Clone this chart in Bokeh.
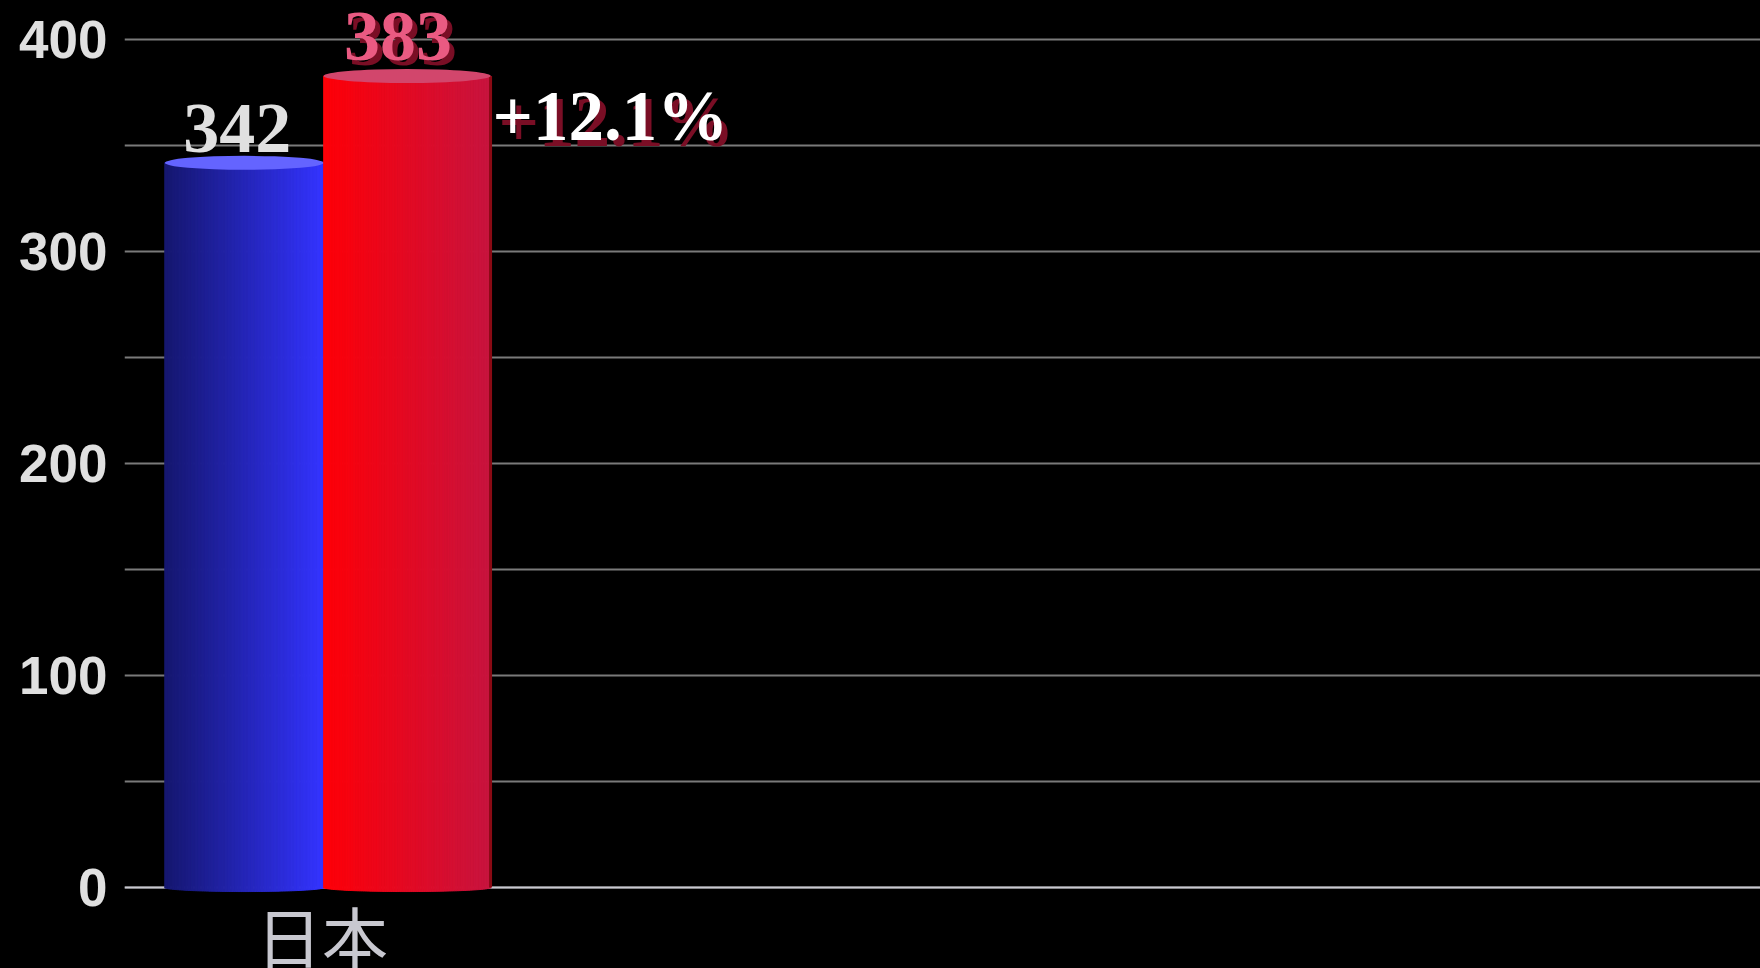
import numpy as np
from bokeh.plotting import figure
from bokeh.models import Range1d, FixedTicker, SingleIntervalTicker, Span
from bokeh.core.properties import value
from bokeh.embed import file_html
from bokeh.resources import INLINE

# ---- data ----
categories = ["日本"]
values_prev = [342]
values_curr = [383]
change_labels = ["+12.1%"]
y_ticks = [0, 100, 200, 300, 400]

# ---- style ----
W, H = 1760, 968
OFF_PREV, W_PREV = -0.207, 0.389
OFF_CURR, W_CURR = 0.191, 0.408
PX_PER_UNIT_Y = 2.119
BOTTOM_HALF = 4 / PX_PER_UNIT_Y   # bottom ellipse half height (data units)
Y0, Y1 = -38.2, 418.6

p = figure(width=W, height=H, output_backend="svg", toolbar_location=None,
           x_range=Range1d(-0.5, 3.5), y_range=Range1d(Y0, Y1),
           background_fill_color="black", border_fill_color="black",
           min_border_left=124, min_border_right=0, min_border_top=0,
           min_border_bottom=0)
p.outline_line_color = None
p.styles = {"background-color": "#000000"}


def hex2rgb(h):
    h = h.lstrip("#")
    return np.array([int(h[i:i + 2], 16) for i in (0, 2, 4)], dtype=float)


def cylinder(xc, w, val, c_left, c_right, c_top, edge=None, n=90):
    edges = np.linspace(xc - w / 2, xc + w / 2, n + 1)
    mids = (edges[:-1] + edges[1:]) / 2
    t = (mids - xc) / (w / 2)
    a, b = hex2rgb(c_left), hex2rgb(c_right)
    fr = np.linspace(0, 1, n)
    cols = ["#%02x%02x%02x" % tuple(int(round(v)) for v in (a + (b - a) * f)) for f in fr]
    bottoms = -BOTTOM_HALF * np.sqrt(np.clip(1 - t ** 2, 0, 1))
    p.quad(left=edges[:-1], right=edges[1:], top=[val] * n, bottom=bottoms,
           fill_color=cols, line_color=cols, line_width=1)
    if edge:
        p.segment(x0=[xc + w / 2], y0=[0], x1=[xc + w / 2], y1=[val],
                  line_color=edge, line_width=3)
    p.ellipse(x=[xc], y=[val], width=[w], height=[14], height_units="screen",
              fill_color=c_top, line_color=None)


xs = np.arange(len(categories))

# zero line
p.add_layout(Span(location=0, dimension="width", line_color="#c8c8d0",
                  line_width=2, level="underlay"))

for i in range(len(categories)):
    cylinder(xs[i] + OFF_PREV, W_PREV, values_prev[i], "#161870", "#3434ff", "#6464ff")
    cylinder(xs[i] + OFF_CURR, W_CURR, values_curr[i], "#ff0008", "#c8143f", "#d2466c",
             edge="#8a0a14")

serif = value("Liberation Serif")

# previous value labels
p.text(x=xs + OFF_PREV, y=values_prev, text=[str(v) for v in values_prev],
       text_font=serif, text_font_style="bold", text_font_size="72px",
       text_color="#e0e0e0", text_align="center", text_baseline="alphabetic",
       x_offset=-7, y_offset=-34)

# current value labels (shadow + main)
p.text(x=xs + OFF_CURR, y=values_curr, text=[str(v) for v in values_curr],
       text_font=serif, text_font_style="bold", text_font_size="72px",
       text_color="#7a0e25", text_align="center", text_baseline="alphabetic",
       x_offset=-4, y_offset=-34)
p.text(x=xs + OFF_CURR, y=values_curr, text=[str(v) for v in values_curr],
       text_font=serif, text_font_style="bold", text_font_size="72px",
       text_color="#ea5a82", text_align="center", text_baseline="alphabetic",
       x_offset=-9, y_offset=-39)

# change labels (shadow + main)
right_edge = xs + OFF_CURR + W_CURR / 2
p.text(x=right_edge, y=values_prev, text=change_labels,
       text_font=serif, text_font_style="bold", text_font_size="71px",
       text_color="#7a0e25", text_align="left", text_baseline="alphabetic",
       x_offset=8, y_offset=-41)
p.text(x=right_edge, y=values_prev, text=change_labels,
       text_font=serif, text_font_style="bold", text_font_size="71px",
       text_color="#ffffff", text_align="left", text_baseline="alphabetic",
       x_offset=2, y_offset=-47)

# category labels
p.text(x=xs, y=[0] * len(categories), text=categories,
       text_font=value("Noto Sans CJK JP"), text_font_size="66px",
       text_color="#c8c8d0", text_align="center", text_baseline="top",
       x_offset=-7, y_offset=-2)

# axes
p.xaxis.visible = False
p.xgrid.visible = False
p.yaxis.ticker = FixedTicker(ticks=y_ticks)
p.yaxis.axis_line_color = None
p.yaxis.major_tick_line_color = None
p.yaxis.minor_tick_line_color = None
p.yaxis.major_tick_out = 0
p.yaxis.major_tick_in = 0
p.yaxis.major_label_standoff = 17
p.yaxis.major_label_text_font = "Liberation Sans"
p.yaxis.major_label_text_font_style = "bold"
p.yaxis.major_label_text_font_size = "53px"
p.yaxis.major_label_text_color = "#e0e0e0"
p.ygrid.ticker = SingleIntervalTicker(interval=50)
p.ygrid.grid_line_color = "#7a7a7a"
p.ygrid.grid_line_width = 2

open("out.html", "w").write(file_html(p, INLINE))
